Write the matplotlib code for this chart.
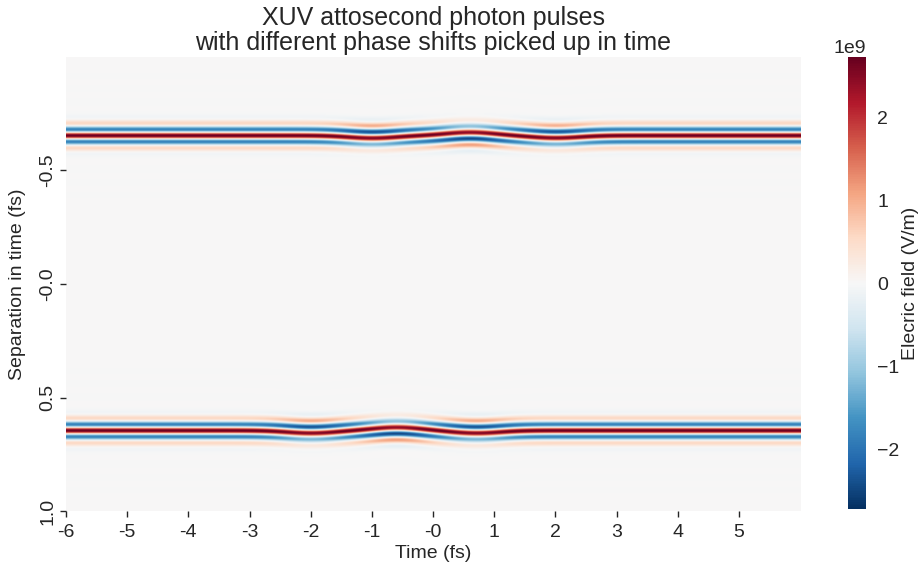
import numpy as np
import matplotlib
matplotlib.use("Agg")
import matplotlib.pyplot as plt

plt.rcParams['font.family'] = ['Liberation Sans', 'DejaVu Sans']
plt.rcParams['text.color'] = '#262626'
plt.rcParams['axes.labelcolor'] = '#262626'
plt.rcParams['xtick.color'] = '#262626'
plt.rcParams['ytick.color'] = '#262626'

# pulse description
pulse_centers = [-0.651, 0.647]        # separation of each pulse (fs)
peak_field = 2.72e9                    # V/m
carrier_period = 0.059                 # fs
envelope_width = 0.045                 # fs
# phase kicks picked up in time, one list per pulse
kick_times = [[-1.0, 0.6, 2.0], [-2.0, -0.6, 0.7]]
kick_phases = [[1.3, -1.6, 1.2], [1.3, -1.6, 1.3]]
kick_width = 0.55                      # fs

x_ticks = [-6, -5, -4, -3, -2, -1, 0, 1, 2, 3, 4, 5]
x_labels = ['-6', '-5', '-4', '-3', '-2', '-1', '-0', '1', '2', '3', '4', '5']
y_ticks = [-0.5, 0.0, 0.5, 1.0]
y_labels = ['-0.5', '-0.0', '0.5', '1.0']

t = np.linspace(-6, 6, 1200)
s = np.linspace(-1, 1, 1000)
T, S = np.meshgrid(t, s)

k = 2 * np.pi / carrier_period
field = np.zeros_like(T)
for s0, times, phases in zip(pulse_centers, kick_times, kick_phases):
    phi = np.zeros_like(T)
    for tc, ph in zip(times, phases):
        phi += ph * np.exp(-((T - tc) / kick_width) ** 2)
    env = np.exp(-((S - s0) / envelope_width) ** 2)
    field += peak_field * env * np.cos(k * (S - s0) - phi)

fig = plt.figure(figsize=(9.18, 5.69), dpi=100)
ax = fig.add_axes([0.0719, 0.1019, 0.7996, 0.798])
cax = fig.add_axes([0.924, 0.1054, 0.0196, 0.794])

im = ax.imshow(field, cmap='RdBu_r', vmin=-peak_field, vmax=peak_field,
               extent=[t[0], t[-1], s[-1], s[0]], aspect='auto',
               interpolation='bilinear')
for sp in ax.spines.values():
    sp.set_visible(False)

ax.set_xticks(x_ticks)
ax.set_xticklabels(x_labels)
ax.set_yticks(y_ticks)
ax.set_yticklabels(y_labels, rotation=90, va='center')
ax.tick_params(labelsize=14, length=4, width=1, pad=3)
ax.tick_params(axis='x', pad=5)
ax.set_xlabel('Time (fs)', fontsize=14, labelpad=3)
ax.set_ylabel('Separation in time (fs)', fontsize=14)
ax.yaxis.set_label_coords(-0.054, 0.5)
ax.set_title('XUV attosecond photon pulses\nwith different phase shifts picked up in time',
             fontsize=18, pad=5, linespacing=1.05)

cb = fig.colorbar(im, cax=cax)
cb.outline.set_visible(False)
cb.ax.tick_params(labelsize=14, length=0, pad=8)
cb.ax.yaxis.get_offset_text().set_fontsize(14)
cb.set_label('Elecric field (V/m)', fontsize=14, labelpad=2)

fig.savefig('out.png', dpi=100)
